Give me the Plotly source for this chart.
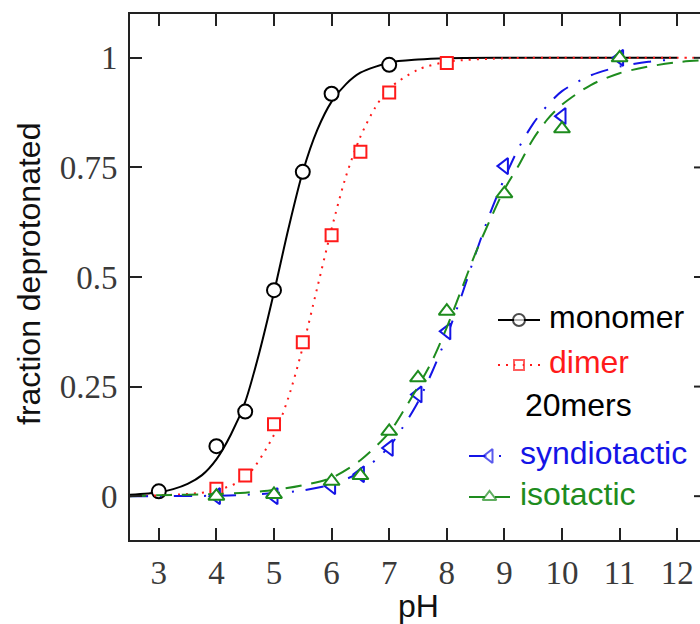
import plotly.graph_objects as go

# ---- measured points -------------------------------------------------------
monomer_ph = [3, 4, 4.5, 5, 5.5, 6, 7]
monomer_frac = [0.011, 0.114, 0.193, 0.47, 0.74, 0.918, 0.984]

dimer_ph = [4, 4.5, 5, 5.5, 6, 6.5, 7, 8]
dimer_frac = [0.017, 0.047, 0.164, 0.351, 0.595, 0.786, 0.921, 0.988]

synd_ph = [4, 5, 6, 6.5, 7, 7.5, 8, 9, 10, 11]
synd_frac = [0.0, 0.0, 0.023, 0.05, 0.11, 0.232, 0.376, 0.753, 0.867, 1.0]

iso_ph = [4, 5, 6, 6.5, 7, 7.5, 8, 9, 10, 11]
iso_frac = [0.0, 0.004, 0.034, 0.047, 0.148, 0.27, 0.422, 0.69, 0.838, 1.0]

# ---- fitted titration curves ----------------------------------------------
monomer_fit_ph = [2.5, 3, 3.25, 3.5, 3.75, 4, 4.25, 4.5, 4.75, 5, 5.25, 5.5,
                  5.75, 6, 6.25, 6.5, 7, 7.5, 8, 9, 10, 11, 12]
monomer_fit = [0.003, 0.009, 0.016, 0.028, 0.048, 0.084, 0.14, 0.215, 0.33,
               0.465, 0.61, 0.74, 0.835, 0.9, 0.94, 0.966, 0.989, 0.996,
               0.999, 1.0, 1.0, 1.0, 1.0]

dimer_fit_ph = [2.5, 3, 3.5, 4, 4.5, 5, 5.25, 5.5, 5.75, 6, 6.25, 6.5, 6.75,
                7, 7.5, 8, 9, 10, 11, 12, 12.4]
dimer_fit = [0.0, 0.002, 0.005, 0.013, 0.042, 0.14, 0.225, 0.34, 0.475, 0.61,
             0.73, 0.82, 0.885, 0.93, 0.973, 0.991, 0.999, 1.0, 1.0, 1.0, 1.0]

synd_fit_ph = [2.5, 3, 4, 4.5, 5, 5.5, 6, 6.5, 7, 7.25, 7.5, 7.75, 8, 8.25,
               8.5, 8.75, 9, 9.25, 9.5, 9.75, 10, 10.5, 11, 11.5, 12]
synd_fit = [0.0, 0.0, 0.001, 0.003, 0.007, 0.013, 0.027, 0.055, 0.113, 0.16,
            0.215, 0.285, 0.365, 0.455, 0.553, 0.645, 0.725, 0.795, 0.85,
            0.892, 0.924, 0.96, 0.98, 0.991, 0.997]

iso_fit_ph = [2.5, 3, 4, 4.5, 5, 5.5, 6, 6.5, 7, 7.25, 7.5, 7.75, 8, 8.25,
              8.5, 8.75, 9, 9.25, 9.5, 9.75, 10, 10.5, 11, 11.5, 12, 12.4]
iso_fit = [0.0, 0.002, 0.005, 0.008, 0.014, 0.025, 0.042, 0.082, 0.145, 0.195,
           0.25, 0.31, 0.385, 0.47, 0.555, 0.63, 0.70, 0.755, 0.815, 0.86,
           0.893, 0.938, 0.965, 0.98, 0.99, 0.994]

x_ticks = [3, 4, 5, 6, 7, 8, 9, 10, 11, 12]
y_ticks = [0, 0.25, 0.5, 0.75, 1]
y_tick_text = ["0", "0.25", "0.5", "0.75", "1"]

# ---- styling ---------------------------------------------------------------
BLACK = "#000000"
RED = "#ff1a1a"
BLUE = "#1414e6"
GREEN = "#1e8c1e"

DASH = {
    "solid": "solid",
    "dotted": "2px,6px",
    "dashdot": "18px,12px,2px,12px",
    "dashed": "16px,10px",
}

series = [
    dict(name="monomer", color=BLACK, symbol="circle", dash="solid", size=14,
         fx=monomer_fit_ph, fy=monomer_fit, px=monomer_ph, py=monomer_frac),
    dict(name="dimer", color=RED, symbol="square", dash="dotted", size=12,
         fx=dimer_fit_ph, fy=dimer_fit, px=dimer_ph, py=dimer_frac),
    dict(name="syndiotactic", color=BLUE, symbol="triangle-left", dash="dashdot",
         size=14, fx=synd_fit_ph, fy=synd_fit, px=synd_ph, py=synd_frac),
    dict(name="isotactic", color=GREEN, symbol="triangle-up", dash="dashed",
         size=14, fx=iso_fit_ph, fy=iso_fit, px=iso_ph, py=iso_frac),
]

W, H = 700, 624
ML, MR, MT, MB = 130, 0, 14, 84
X_RANGE = [2.5, 2.5 + (W - ML - MR) / 57.6]
Y_RANGE = [-0.1, 1.1]

fig = go.Figure()

for s in series:
    fig.add_trace(go.Scatter(
        x=s["fx"], y=s["fy"], mode="lines", line_shape="spline",
        line=dict(color=s["color"], width=2, dash=DASH[s["dash"]], smoothing=0.8),
        showlegend=False, hoverinfo="skip"))
    fig.add_trace(go.Scatter(
        x=s["px"], y=s["py"], mode="markers",
        marker=dict(symbol=s["symbol"], size=s["size"], color="white",
                    line=dict(color=s["color"], width=2)),
        showlegend=False, name=s["name"]))

# ---- key (drawn on a pixel-scaled overlay axis) ----------------------------
key_rows = [
    # label, series index, sample x0, x1, text x, row y
    ("monomer", 0, 498, 540, 547, 320),
    ("dimer", 1, 498, 540, 547, 365),
    ("20mers", None, None, None, 523, 408),
    ("syndiotactic", 2, 469, 510, 518, 456),
    ("isotactic", 3, 469, 510, 518, 497),
]
annotations = []
for label, idx, x0, x1, tx, ry in key_rows:
    color = BLACK if idx is None else series[idx]["color"]
    if idx is not None:
        s = series[idx]
        fig.add_trace(go.Scatter(
            x=[x0, (x0 + x1) / 2, x1], y=[ry, ry, ry], xaxis="x3", yaxis="y3",
            mode="lines+markers",
            line=dict(color=s["color"], width=2, dash=DASH[s["dash"]]),
            marker=dict(symbol=s["symbol"], size=[0, s["size"] - 2, 0],
                        color="white", line=dict(color=s["color"], width=2)),
            showlegend=False, hoverinfo="skip"))
    annotations.append(dict(
        x=tx, y=ry - 3, xref="x3", yref="y3", text=label, showarrow=False,
        xanchor="left", yanchor="middle",
        font=dict(family="Liberation Sans, Arial, sans-serif", size=32, color=color)))

# axis titles
def px_to_paper_x(px):
    return (px - ML) / (W - ML - MR)

def px_to_paper_y(py):
    return 1 - (py - MT) / (H - MT - MB)

annotations.append(dict(
    x=px_to_paper_x(418), y=px_to_paper_y(606), xref="paper", yref="paper",
    text="pH", showarrow=False, xanchor="center", yanchor="middle",
    font=dict(family="Liberation Sans, Arial, sans-serif", size=32, color="#111")))
annotations.append(dict(
    x=px_to_paper_x(29), y=px_to_paper_y(274), xref="paper", yref="paper",
    text="fraction deprotonated", textangle=-90, showarrow=False,
    xanchor="center", yanchor="middle",
    font=dict(family="Liberation Sans, Arial, sans-serif", size=32, color="#111")))

# short inward ticks on the right-hand side of the frame
shapes = [dict(type="line", xref="paper", yref="y", x0=1 - 6 / (W - ML - MR),
               x1=1, y0=v, y1=v, line=dict(color="#222", width=2))
          for v in y_ticks]

tick_font = dict(family="Liberation Serif, Times New Roman, serif", size=33,
                 color="#3a3a3a")

fig.update_layout(
    width=W, height=H,
    margin=dict(l=ML, r=MR, t=MT, b=MB, pad=0),
    paper_bgcolor="white", plot_bgcolor="white",
    annotations=annotations, shapes=shapes,
    xaxis=dict(range=X_RANGE, tickvals=x_ticks, ticks="inside", ticklen=12,
               tickwidth=2, tickcolor="#222", showline=True, linewidth=2,
               linecolor="#222", mirror="ticks", showgrid=False, zeroline=False,
               tickfont=tick_font, ticklabelstandoff=2),
    yaxis=dict(range=Y_RANGE, tickvals=y_ticks, ticktext=y_tick_text,
               ticks="inside", ticklen=12, tickwidth=2, tickcolor="#222",
               showline=True, linewidth=2, linecolor="#222", mirror=False,
               showgrid=False, zeroline=False, tickfont=tick_font,
               ticklabelstandoff=4),
    xaxis3=dict(range=[ML, W - MR], overlaying="x", anchor="y3", visible=False,
                fixedrange=True),
    yaxis3=dict(range=[H - MB, MT], overlaying="y", anchor="x3", visible=False,
                fixedrange=True),
    showlegend=False,
)

fig.write_html("out.html")
